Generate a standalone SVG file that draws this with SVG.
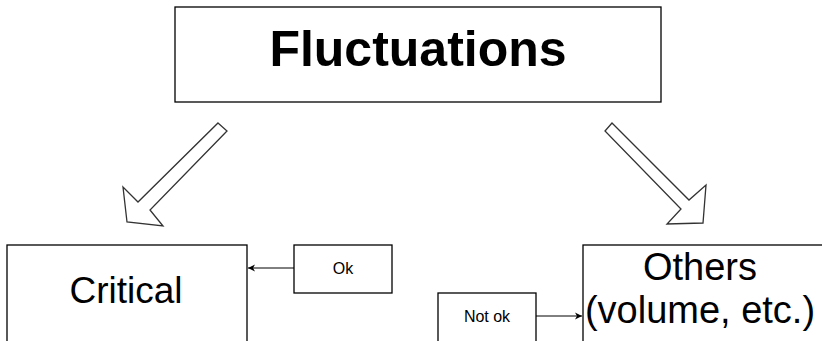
<svg xmlns="http://www.w3.org/2000/svg" width="822" height="341" viewBox="0 0 822 341">
<style>
.box{fill:#fff;stroke:#000;stroke-width:1.3}
.blk{fill:#fff;stroke:#333;stroke-width:1.3;stroke-linejoin:miter}
.t{font-family:"Liberation Sans",Arial,sans-serif;fill:#000;text-anchor:middle}
.conn{stroke:#000;stroke-width:1;fill:none}
</style>
<defs>
<marker id="ah" markerWidth="8" markerHeight="8" refX="7" refY="4" orient="auto" markerUnits="userSpaceOnUse">
<path d="M0,0.5 L7,4 L0,7.5 L2,4 Z" fill="#000"/>
</marker>
</defs>
<rect width="822" height="341" fill="#fff"/>
<g id="fluctuations">
<rect class="box" x="175" y="7" width="486" height="95"/>
<text class="t" x="418" y="66" font-size="50" font-weight="bold">Fluctuations</text>
</g>
<g id="critical">
<rect class="box" x="7" y="245" width="240" height="110"/>
<text class="t" x="126" y="303" font-size="37">Critical</text>
</g>
<g id="others">
<rect class="box" x="583" y="245" width="250" height="110"/>
<text class="t" x="700" y="280" font-size="38">Others</text>
<text class="t" x="700" y="323" font-size="38">(volume, etc.)</text>
</g>
<g id="ok">
<rect class="box" x="294" y="245" width="98" height="48"/>
<text class="t" x="343" y="274" font-size="16">Ok</text>
</g>
<g id="notok">
<rect class="box" x="438" y="293" width="98" height="60"/>
<text class="t" x="487" y="322" font-size="16">Not ok</text>
</g>
<g id="connectors">
<polygon class="blk" points="218,123 227,131 150,210 163,226 127,222 123,187 138,202"/>
<polygon class="blk" points="612,123 689,200 706,185 703,223 667,224 681,209 605,131"/>
<line class="conn" x1="294" y1="268" x2="248" y2="268" marker-end="url(#ah)"/>
<line class="conn" x1="536" y1="316" x2="582" y2="316" marker-end="url(#ah)"/>
</g>
</svg>
